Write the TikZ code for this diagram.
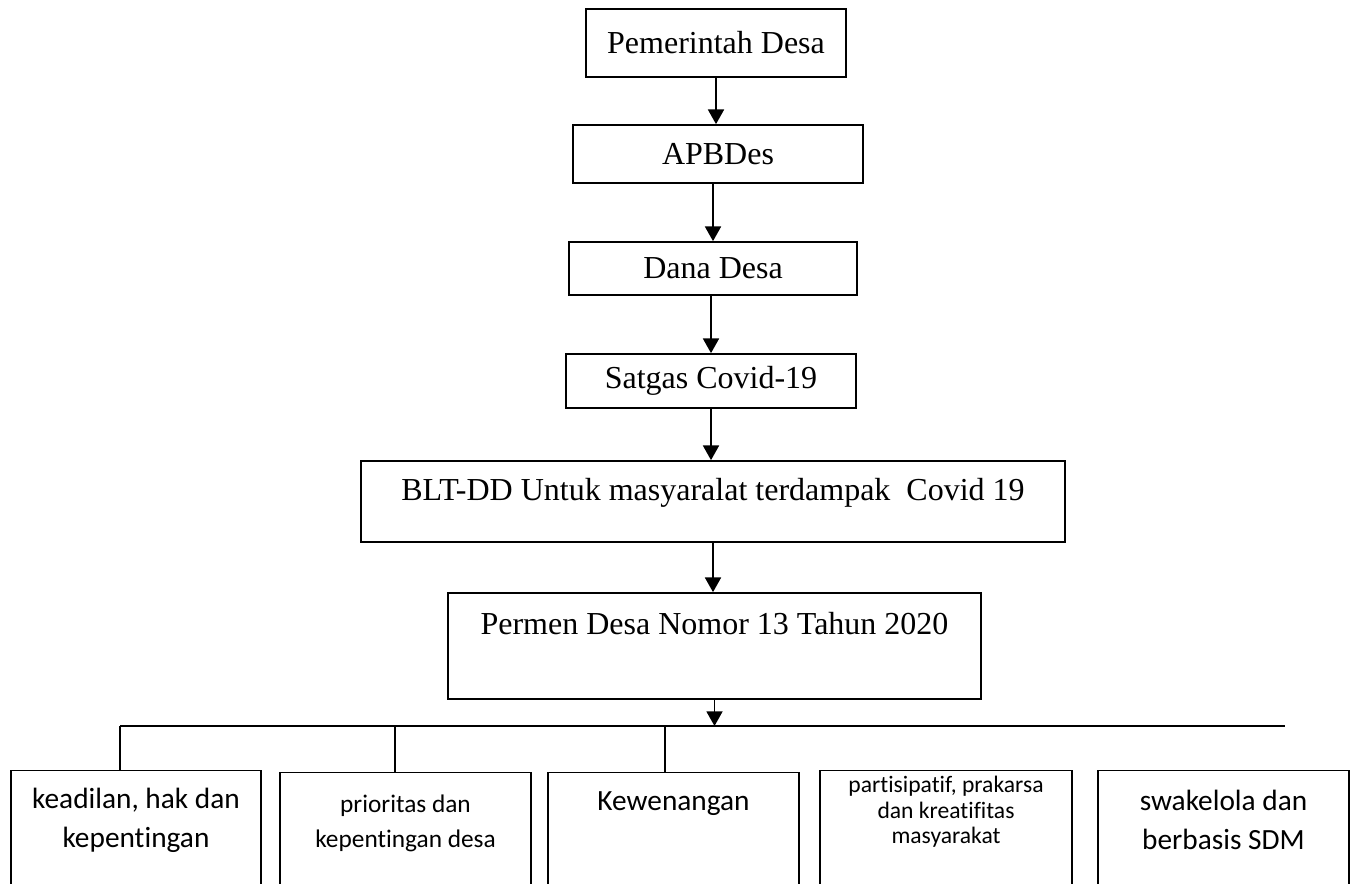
\documentclass[tikz,border=0pt]{standalone}
\usepackage{fontspec}
\setmainfont{Liberation Serif}
\newfontfamily\calfont[Ligatures=NoCommon]{Carlito}
\usetikzlibrary{arrows.meta,positioning}

\tikzset{
  box/.style={draw, line width=1.3pt, inner sep=0pt},
  lowbox/.style={draw, line width=1.1pt, inner sep=0pt, anchor=north, minimum height=112pt},
  toptxt/.style={anchor=north, inner sep=0pt, align=center},
  arr/.style={line width=1.3pt, -{Triangle[length=11pt,width=12pt]}},
  lin/.style={line width=1.3pt}
}

\begin{document}
\begin{tikzpicture}[x=0.75pt,y=-0.75pt]
\useasboundingbox (0,0) rectangle (1351,883);
\clip (0,0) rectangle (1351,883);
\fontsize{24}{28}\selectfont
% main chain
\node[box, minimum width=195pt, minimum height=51pt] (pd) at (716,43) {Pemerintah Desa};
\node[box, minimum width=217.5pt, minimum height=43.5pt] (apb) at (718,154) {APBDes};
\node[box, minimum width=216pt, minimum height=39.75pt] (dd) at (713,268.5) {Dana Desa};
\node[box, minimum width=217.5pt, minimum height=40.5pt] (sat) at (711,381) {Satgas Covid-19};
\node[box, minimum width=528pt, minimum height=60.75pt, label={[toptxt, yshift=-13.5pt]north:{BLT-DD Untuk masyaralat terdampak\ \ Covid 19}}] (blt) at (713,501.5) {};
\node[box, minimum width=399.75pt, minimum height=79.5pt, label={[toptxt, yshift=-15pt]north:{Permen Desa Nomor 13 Tahun 2020}}] (pm) at (714.5,646) {};
% bottom row
\node[lowbox, minimum width=187.5pt, label={[toptxt, yshift=-13.3pt, font=\calfont\fontsize{22}{29.5}\selectfont]north:{keadilan, hak dan\\kepentingan}}] (b1) at (136,770) {};
\node[lowbox, minimum width=188.25pt, label={[toptxt, yshift=-16.7pt, font=\calfont\fontsize{19}{26.25}\selectfont]north:{prioritas dan\\kepentingan desa}}] (b2) at (405.5,772) {};
\node[lowbox, minimum width=188.25pt, label={[toptxt, yshift=-14.6pt, font=\calfont\fontsize{22}{29.5}\selectfont]north:{Kewenangan}}] (b3) at (673.5,772) {};
\node[lowbox, minimum width=189pt, label={[toptxt, yshift=-4.6pt, font=\calfont\fontsize{17.7}{19}\selectfont]north:{partisipatif, prakarsa\\dan kreatifitas\\masyarakat}}] (b4) at (946,770) {};
\node[lowbox, minimum width=188.25pt, label={[toptxt, yshift=-14.6pt, font=\calfont\fontsize{22}{29.5}\selectfont]north:{swakelola dan\\berbasis SDM}}] (b5) at (1223.5,770) {};
% connectors
\coordinate (hl) at (120,726);
\coordinate (hr) at (1285,726);
\coordinate (d2) at (395,726);
\coordinate (d3) at (665,726);
\draw[arr] (pd) -- (pd |- apb.north);
\draw[arr] (dd |- apb.south) -- (dd);
\draw[arr] (sat |- dd.south) -- (sat);
\draw[arr] (sat) -- (sat |- blt.north);
\draw[arr] (blt) -- (blt |- pm.north);
\draw[arr] (pm) -- (pm |- hl);
\draw[lin] (hl) -- (hr);
\draw[lin] (hl) -- (hl |- b1.north);
\draw[lin] (d2) -- (d2 |- b2.north);
\draw[lin] (d3) -- (d3 |- b3.north);
\end{tikzpicture}
\end{document}
